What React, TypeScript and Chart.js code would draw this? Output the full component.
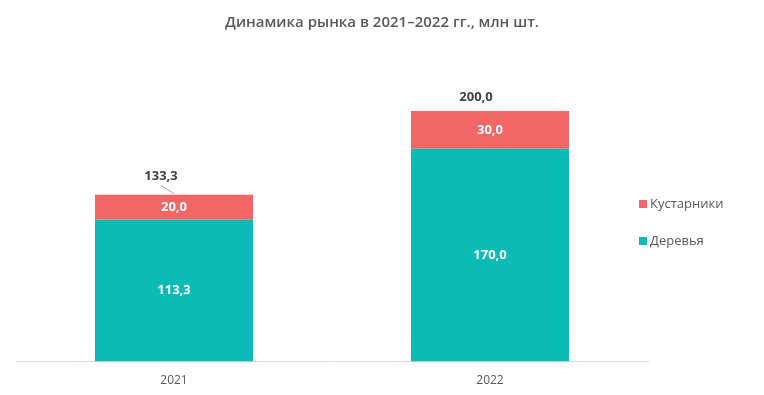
import React, { useEffect, useRef } from "react";
import { Chart, registerables } from "chart.js";

Chart.register(...registerables);

const categories = ["2021", "2022"];
const trees = [113.3, 170.0];
const shrubs = [20.0, 30.0];
const totals = [133.3, 200.0];
const seriesNames = ["Деревья", "Кустарники"];
const colors = ["#0BBBB6", "#F26666"];
const titleText = "Динамика рынка в 2021–2022 гг., млн шт.";

const FONT = "'Open Sans', 'Noto Sans', sans-serif";
const fmt = (v: number) => v.toFixed(1).replace(".", ",");

const overlayPlugin = {
  id: "overlay",
  afterDatasetsDraw(chart: any) {
    const ctx = chart.ctx;
    const xs = chart.scales.x;
    const ys = chart.scales.y;
    ctx.save();
    // title centred on the canvas
    ctx.font = `600 15px ${FONT}`;
    ctx.fillStyle = "#595959";
    ctx.textAlign = "center";
    ctx.textBaseline = "middle";
    ctx.fillText(titleText, chart.width / 2, 23);
    // segment labels
    ctx.font = `bold 13px ${FONT}`;
    ctx.fillStyle = "#ffffff";
    chart.data.datasets.forEach((ds: any, di: number) => {
      const meta = chart.getDatasetMeta(di);
      meta.data.forEach((bar: any, i: number) => {
        const y = (bar.y + bar.base) / 2;
        ctx.fillText(fmt(ds.data[i]), bar.x, y);
      });
    });
    // totals
    ctx.fillStyle = "#404040";
    totals.forEach((t, i) => {
      const cx = xs.getPixelForValue(i);
      const top = ys.getPixelForValue(t);
      if (i === 0) {
        ctx.strokeStyle = "#a6a6a6";
        ctx.lineWidth = 1;
        ctx.beginPath();
        ctx.moveTo(cx - 13, top - 9);
        ctx.lineTo(cx, top - 1);
        ctx.stroke();
        ctx.fillText(fmt(t), cx - 13, top - 18);
      } else {
        ctx.fillText(fmt(t), cx - 14, top - 14);
      }
    });
    // legend (reverse order)
    const items = [
      { name: seriesNames[1], color: colors[1], y: 204 },
      { name: seriesNames[0], color: colors[0], y: 241 },
    ];
    ctx.font = `13px ${FONT}`;
    ctx.textAlign = "left";
    items.forEach((it) => {
      ctx.fillStyle = it.color;
      ctx.fillRect(639, it.y - 4, 8, 8);
      ctx.fillStyle = "#595959";
      ctx.fillText(it.name, 650, it.y);
    });
    ctx.restore();
  },
};

export default function App() {
  const ref = useRef<HTMLCanvasElement>(null);
  useEffect(() => {
    if (!ref.current) return;
    const chart = new Chart(ref.current, {
      type: "bar",
      data: {
        labels: categories,
        datasets: [
          { label: seriesNames[0], data: trees, backgroundColor: colors[0], barPercentage: 0.5, categoryPercentage: 1 },
          { label: seriesNames[1], data: shrubs, backgroundColor: colors[1], barPercentage: 0.5, categoryPercentage: 1 },
        ],
      },
      options: {
        animation: false,
        responsive: true,
        maintainAspectRatio: false,
        layout: { padding: { left: 16, right: 116, top: 61, bottom: -5 } },
        plugins: {
          legend: { display: false },
          tooltip: { enabled: false },
          title: { display: false },
        },
        scales: {
          x: {
            stacked: true,
            grid: { display: false, drawTicks: false },
            border: { display: true, color: "#d9d9d9" },
            ticks: { color: "#595959", font: { family: FONT, size: 12 }, padding: 12 },
          },
          y: {
            stacked: true,
            display: false,
            min: 0,
            max: 240,
          },
        },
      },
      plugins: [overlayPlugin],
    });
    return () => chart.destroy();
  }, []);
  return (
    <div style={{ position: "fixed", left: 0, top: 0, width: 764, height: 395, background: "#fff" }}>
      <canvas ref={ref} />
    </div>
  );
}
